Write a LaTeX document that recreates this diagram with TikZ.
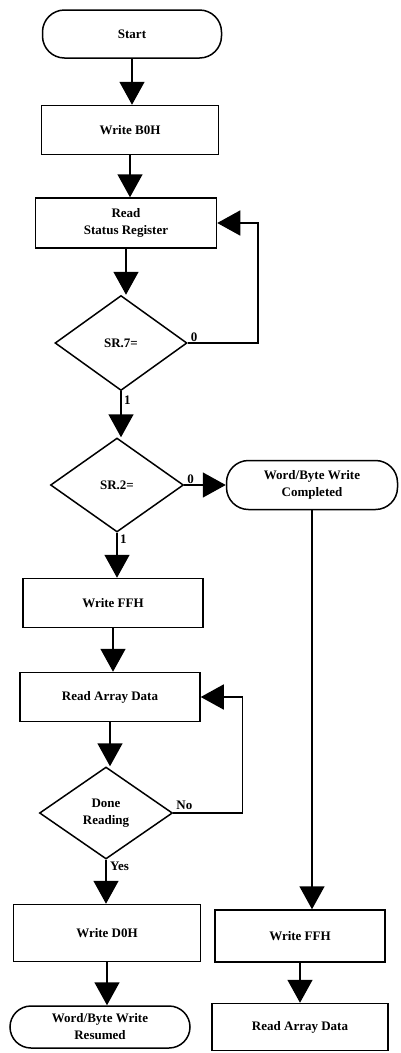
\documentclass[tikz,border=0pt]{standalone}
\usepackage{fontspec}
\setmainfont{Liberation Serif}
\usetikzlibrary{shapes.geometric,arrows.meta}
\begin{document}
\begin{tikzpicture}[x=1pt,y=-1pt,
  every node/.style={font=\bfseries\fontsize{13}{17}\selectfont, align=center},
  box/.style={draw, line width=1.5pt, rectangle, inner sep=0pt},
  term/.style={draw, line width=1.5pt, rectangle, rounded corners=22pt, inner sep=0pt},
  dia/.style={draw, line width=1.5pt, diamond, inner sep=0pt},
  arr/.style={line width=1.5pt, -{Triangle[length=23pt,width=25pt]}},
  lbl/.style={inner sep=1pt}]
\useasboundingbox (0,0) rectangle (401,1053);

\node[term, minimum width=179pt, minimum height=48pt] (start) at (132,34) {Start};
\node[box, minimum width=177pt, minimum height=49pt] (w1) at (130,130) {Write B0H};
\node[box, minimum width=181pt, minimum height=50pt] (rsr) at (126,223) {Read\\Status Register};
\node[dia, minimum width=132pt, minimum height=95pt] (sr7) at (121,343) {SR.7=};
\node[dia, minimum width=133pt, minimum height=94pt] (sr2) at (117,485) {SR.2=};
\node[term, minimum width=171pt, minimum height=49pt] (wbc) at (312,485) {Word/Byte Write\\Completed};
\node[box, minimum width=180pt, minimum height=49pt] (wffh) at (113,603) {Write FFH};
\node[box, minimum width=180pt, minimum height=49pt] (rad) at (110,697) {Read Array Data};
\node[dia, minimum width=133pt, minimum height=92pt] (done) at (106,813) {Done\\Reading};
\node[box, minimum width=187pt, minimum height=57pt] (wd0h) at (107,933) {Write D0H};
\node[term, minimum width=180pt, minimum height=42pt, rounded corners=21pt] (wbr) at (100,1027) {Word/Byte Write\\Resumed};
\node[box, minimum width=170pt, minimum height=52pt] (wffh2) at (300,936) {Write FFH};
\node[box, minimum width=176pt, minimum height=47pt] (rad2) at (300,1027) {Read Array Data};

\draw[arr] (start.south) -- (start.south |- w1.north);
\draw[arr] (w1.south) -- (w1.south |- rsr.north);
\draw[arr] (rsr.south) -- (rsr.south |- sr7.north);
\draw[arr] (sr7.east) -- ++(70,0) |- (rsr.east);
\draw[arr] (sr7.south) -- (sr7.south |- sr2.north);
\draw[arr] (sr2.east) -- (wbc.west);
\draw[arr] (sr2.south) -- (sr2.south |- wffh.north);
\draw[arr] (wffh.south) -- (wffh.south |- rad.north);
\draw[arr] (rad.south) -- (rad.south |- done.north);
\draw[arr] (done.east) -- ++(69,0) |- (rad.east);
\draw[arr] (done.south) -- (done.south |- wd0h.north);
\draw[arr] (wd0h.south) -- (wd0h.south |- wbr.north);
\draw[arr] (wbc.south) -- (wbc.south |- wffh2.north);
\draw[arr] (wffh2.south) -- (wffh2.south |- rad2.north);

\node[lbl, anchor=south west] (l0a) at ([xshift=2pt]sr7.east) {0};
\node[lbl, anchor=north west] (l1a) at ([xshift=2pt,yshift=-3pt]sr7.south) {1};
\node[lbl, anchor=south west] (l0b) at ([xshift=2pt]sr2.east) {0};
\node[lbl, anchor=north west] (l1b) at ([xshift=2pt,yshift=-1pt]sr2.south) {1};
\node[lbl, anchor=south west] (lno) at ([xshift=2pt,yshift=2pt]done.east) {No};
\node[lbl, anchor=north west] (lyes) at ([xshift=3pt,yshift=-1pt]done.south) {Yes};
\end{tikzpicture}
\end{document}
